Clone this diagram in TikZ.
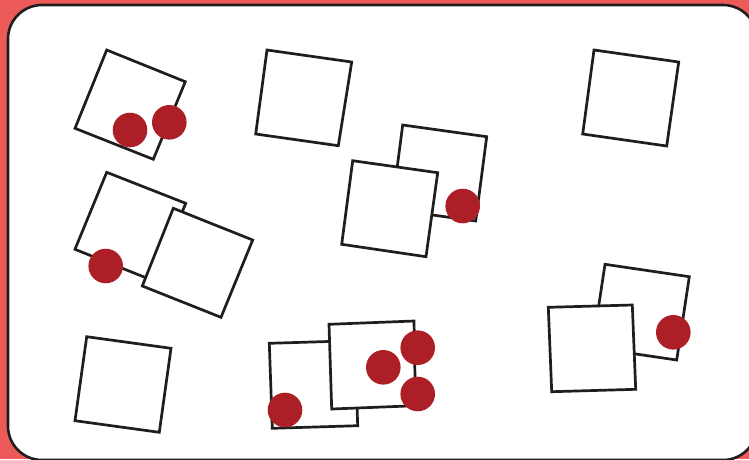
\documentclass[tikz,border=0pt]{standalone}
\definecolor{bgred}{HTML}{EC5A5A}
\definecolor{dotred}{HTML}{AD1F26}
\definecolor{ink}{HTML}{1E1E1E}
\begin{document}
\begin{tikzpicture}[x=1pt,y=-1pt,
  card/.style={draw=ink,fill=white,line width=2.7pt,line join=miter},
  dot/.style={fill=dotred}]
\useasboundingbox (0,0) rectangle (749,459);
\fill[bgred] (0,0) rectangle (749,459);
\draw[draw=ink,fill=white,line width=2.6pt,rounded corners=34pt] (8,5) rectangle (757,460);
% top row
\draw[card] (106.7,50) -- (185.3,81.7) -- (153.3,159.3) -- (75,128.3) -- cycle;
\draw[card] (267,50) -- (351.7,62) -- (338.3,145.7) -- (255.7,134) -- cycle;
\draw[card] (594,50) -- (678.7,62) -- (666.7,146) -- (582.7,134) -- cycle;
% middle pair
\draw[card] (402.7,125) -- (486.7,136.7) -- (475.7,221) -- (391.7,209.3) -- cycle;
\draw[card] (352.7,160.7) -- (437.7,172.7) -- (426,256.7) -- (341.7,244.3) -- cycle;
% left middle pair
\draw[card] (106.7,172.3) -- (185.7,203.3) -- (154,281) -- (75,249.3) -- cycle;
\draw[card] (173.3,208.3) -- (252.7,240) -- (221,317.3) -- (142.3,286) -- cycle;
% bottom left
\draw[card] (86.7,336.7) -- (171,348.3) -- (159.3,432.3) -- (75,420.7) -- cycle;
% bottom middle pair
\draw[card] (269.3,343.3) -- (354.7,340.7) -- (357.7,425.7) -- (272.3,428.3) -- cycle;
\draw[card] (329,324.3) -- (414,321) -- (415.5,405.7) -- (331.7,409) -- cycle;
% right pair
\draw[card] (605,264.3) -- (689.3,276.7) -- (676.7,360) -- (592.4,347.6) -- cycle;
\draw[card] (548.3,307.3) -- (632.3,305) -- (635.7,389.3) -- (551.7,391.7) -- cycle;
% dots
\fill[dot] (130,130) circle (17.3);
\fill[dot] (169.3,122.3) circle (17.3);
\fill[dot] (462.7,206) circle (17.3);
\fill[dot] (105.7,266) circle (17.3);
\fill[dot] (285,410) circle (17.3);
\fill[dot] (383.3,367.3) circle (17.3);
\fill[dot] (417.7,347.7) circle (17.3);
\fill[dot] (417.7,394) circle (17.3);
\fill[dot] (673.3,332.3) circle (17.3);
\end{tikzpicture}
\end{document}
